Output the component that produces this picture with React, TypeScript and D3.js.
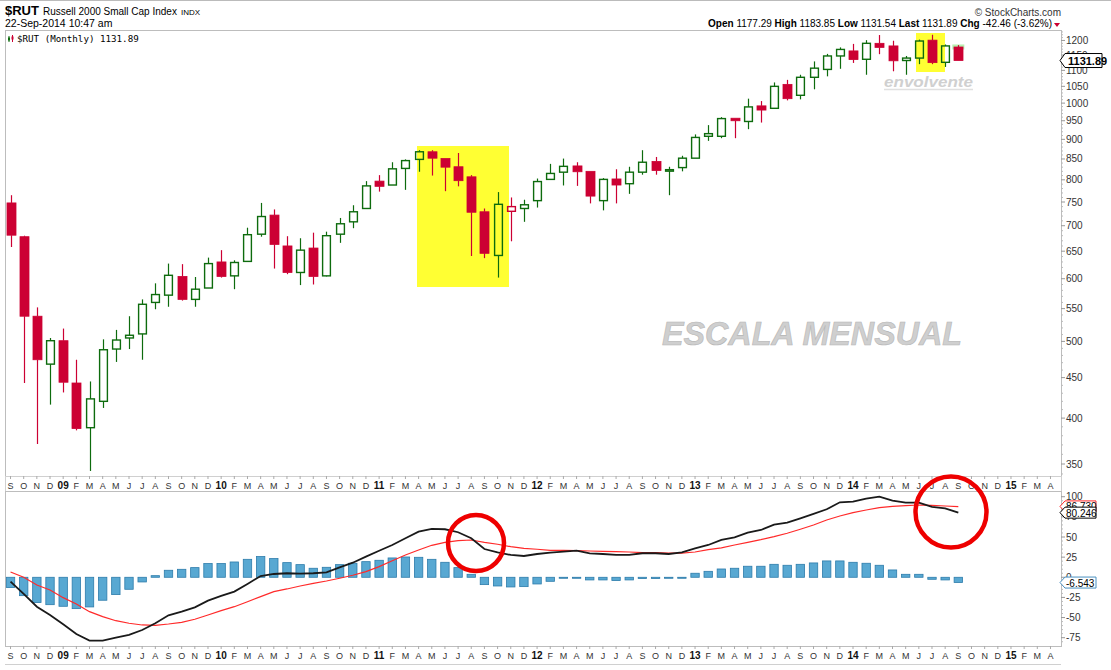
import React from 'react';
import * as d3 from 'd3';

// ---------- DATA ----------
const monthLabels = [
  'S','O','N','D',
  '09','F','M','A','M','J','J','A','S','O','N','D',
  '10','F','M','A','M','J','J','A','S','O','N','D',
  '11','F','M','A','M','J','J','A','S','O','N','D',
  '12','F','M','A','M','J','J','A','S','O','N','D',
  '13','F','M','A','M','J','J','A','S','O','N','D',
  '14','F','M','A','M','J','J','A','S','O','N','D',
  '15','F','M','A',
];

const opens = [748,678,538,468,501,443,389,420,489,505,511,560,572,604,565,584,630,605,631,683,722,660,611,656,605,683,708,736,797,788,827,849,868,851,831,807,729,642,730,736,753,801,818,833,820,753,802,791,818,844,821,829,852,908,908,957,948,992,985,1056,1023,1078,1103,1147,1164,1136,1190,1181,1132,1140,1201,1126,1177.29];
const highs = [765,680,552,505,519,474,445,503,517,538,565,592,627,626,603,638,652,633,696,748,734,679,675,686,688,716,743,797,811,842,849,872,872,851,865,811,736,772,760,755,803,838,851,842,820,804,825,831,872,855,831,858,913,938,960,957,1013,1006,1062,1070,1086,1129,1154,1176,1188,1201,1219,1199,1147,1203,1220,1186,1183.85];
const lows = [658,443,371,416,431,386,343,412,471,489,474,549,553,563,553,584,602,582,630,678,618,608,589,590,604,666,695,736,773,788,777,819,810,774,785,641,637,602,669,708,738,800,787,786,747,732,747,768,812,812,765,820,852,896,903,903,927,945,985,1008,1011,1041,1081,1105,1124,1086,1153,1097,1086,1120,1120,1111,1131.54];
const closes = [681,538,474,501,444,388,423,488,502,509,557,573,606,565,582,627,604,629,682,719,663,611,652,604,680,704,729,786,785,826,846,868,852,830,798,728,646,745,740,744,796,815,832,819,763,801,788,818,842,822,824,852,905,915,956,950,989,980,1050,1013,1078,1107,1147,1169,1135,1190,1176,1131,1140,1198,1125,1181,1131.89];

const macdLine = [-5.4,-20.7,-36.5,-46.8,-58.4,-70.4,-78.6,-78.6,-74.9,-71.6,-65.4,-57.1,-47.2,-42.7,-37.3,-29,-23.2,-17.8,-8.3,1.6,4.1,5,4.6,5,6.2,12.4,18.1,25.6,33,40.1,48.4,56.6,60,59.6,55.9,48.4,35.1,31,27.7,26.4,28.9,30.5,31.8,33,29.8,28.9,27.7,27.7,29.8,29.8,28.9,31,36,40.1,46.3,49.6,55.4,58.7,65.3,67.8,73.2,78.6,84.4,93.1,93.8,97.6,100,95.1,92.6,92.6,87.3,85.6,80.2];
const signalLine = [6.6,0,-9.5,-15.8,-25.3,-33.1,-42.7,-48.9,-53.9,-57.1,-59.2,-59.6,-58,-55.9,-52.1,-46.8,-41.4,-36.5,-30.3,-24,-17.8,-14.5,-10.8,-7.5,-4.6,-1.2,2.5,7,13.2,20.6,27.7,33.9,39.7,43.4,45.4,46.3,43.4,41,38,36,34.8,33.5,33.5,33,32.6,32.2,31.8,31.4,30.6,30.6,30.1,30.1,31.4,34.3,36.4,40.1,43.4,46.7,50.4,54.6,59.6,64.9,71.1,76.1,80.2,83.5,86.4,88.1,88.9,89.7,89.3,88.5,87.6];
const histogram = [-12.8,-22.8,-31.4,-34,-36,-38.9,-36.8,-28.5,-21.5,-14.9,-5.8,2,8.7,9.9,12,17,17,19,22.3,25.7,23.2,18.2,15.7,11.2,12.4,15.7,17.4,19.4,21.1,24,25.2,24.8,22.3,18.6,12,3.7,-9.1,-10.8,-12,-11.6,-8.3,-5,-1.2,-0.4,-3.3,-3.3,-4.1,-3.3,-1.6,-1.6,-1.2,-0.8,5,7.4,10.3,11.2,13.7,13.7,16.1,14.9,16.1,17.8,20.3,20.3,18.6,17.4,14.9,9.1,3.7,3.7,-2.5,-3.3,-6.5];

const priceTicks = [1200,1150,1100,1050,1000,950,900,850,800,750,700,650,600,550,500,450,400,350];
const macdTicks = [100,75,50,25,0,-25,-50,-75];

const lastPrice = 1131.89;
const lastMacd = 80.246;
const lastSignal = 86.73;
const lastHist = -6.543;

// ---------- LAYOUT ----------
const W = 1111, H = 670;
const left = 5, right = 1061;
const mainTop = 30, mainBottom = 476;
const macdTop = 491, macdBottom = 646;

const RED = '#cc0033';
const GREEN = '#0d6b0d';
const FONT = '"Liberation Sans", Arial, sans-serif';

export default function App() {
  const x = d3.scaleLinear().domain([-0.42, 79.8]).range([left, right]);
  const y = d3.scaleLog().domain([338, 1237]).range([mainBottom, mainTop]);
  const ym = d3.scaleLinear().domain([-85.3, 107.1]).range([macdBottom, macdTop]);
  const bw = 9;

  const macdPath = d3.line<number>().x((_, i) => x(i)).y(d => ym(d)).curve(d3.curveLinear)(macdLine) || '';
  const sigPath = d3.line<number>().x((_, i) => x(i)).y(d => ym(d)).curve(d3.curveLinear)(signalLine) || '';

  const minorTicks: number[] = [];
  for (let v = 340; v <= 1230; v += 10) if (v % 50 !== 0) minorTicks.push(v);

  const monthAxis = (yTop: number) => (
    <g>
      {monthLabels.map((m, i) => {
        const bold = /\d/.test(m);
        return (
          <g key={i}>
            <line x1={x(i)} x2={x(i)} y1={yTop} y2={yTop + 3} stroke="#aaa" strokeWidth={1} />
            <text x={x(i)} y={yTop + 13} textAnchor="middle" fontSize={bold ? 10 : 9}
              fontWeight={bold ? 'bold' : 'normal'} fill={bold ? '#111' : '#333'} fontFamily={FONT}>{m}</text>
          </g>
        );
      })}
    </g>
  );

  const arrowBox = (yc: number, x0: number, w: number, h: number) => {
    const hh = h / 2;
    return `M${x0},${yc} L${x0 + 5},${yc - hh} L${x0 + w},${yc - hh} L${x0 + w},${yc + hh} L${x0 + 5},${yc + hh} Z`;
  };

  return (
    <svg width={W} height={H} style={{ position: 'absolute', left: 0, top: 0, background: '#fff' }}
      xmlns="http://www.w3.org/2000/svg">
      <rect x={0} y={0} width={W} height={H} fill="#fff" />
      <line x1={0} x2={W} y1={0.5} y2={0.5} stroke="#bbb" />
      {/* Header */}
      <text x={5} y={15} fontFamily={FONT} fill="#000">
        <tspan fontSize={13} fontWeight="bold">$RUT</tspan>
        <tspan fontSize={10} dx={4}>Russell 2000 Small Cap Index</tspan>
        <tspan fontSize={8} dx={4}>INDX</tspan>
      </text>
      <text x={5} y={27} fontFamily={FONT} fontSize={10.5} fill="#000">22-Sep-2014 10:47 am</text>
      <text x={1061} y={16} fontFamily={FONT} fontSize={10} fill="#333" textAnchor="end">© StockCharts.com</text>
      <text x={1052} y={27} fontFamily={FONT} fontSize={10} fill="#000" textAnchor="end">
        <tspan fontWeight="bold">Open</tspan><tspan> 1177.29 </tspan>
        <tspan fontWeight="bold">High</tspan><tspan> 1183.85 </tspan>
        <tspan fontWeight="bold">Low</tspan><tspan> 1131.54 </tspan>
        <tspan fontWeight="bold">Last</tspan><tspan> 1131.89 </tspan>
        <tspan fontWeight="bold">Chg</tspan><tspan> -42.46 (-3.62%)</tspan>
      </text>
      <path d="M1054,23 L1060,23 L1057,27 Z" fill={RED} />

      {/* Main panel frame */}
      <rect x={left + 0.5} y={mainTop + 0.5} width={right - left} height={mainBottom - mainTop} fill="none" stroke="#bdbdbd" />

      {/* yellow highlights */}
      <rect x={417} y={146} width={92} height={141} fill="#ffff33" />
      <rect x={916} y={33} width={29} height={39} fill="#ffff33" />
      <rect x={x(72) - 6} y={y(1186)} width={12} height={5} fill="#b8f0b0" />

      {/* legend */}
      <g fontFamily={FONT}>
        <line x1={9} x2={9} y1={36} y2={42} stroke={GREEN} />
        <rect x={8} y={37.5} width={2} height={3} fill={GREEN} />
        <line x1={12.5} x2={12.5} y1={35} y2={42} stroke={RED} />
        <rect x={11.5} y={36.5} width={2} height={3} fill={RED} />
        <text x={17} y={42} fontSize={9.2} fontFamily='"DejaVu Sans Mono", monospace' fill="#000">$RUT (Monthly) 1131.89</text>
      </g>

      {/* candles */}
      {closes.map((c, i) => {
        const o = opens[i], h = highs[i], l = lows[i];
        const prev = i > 0 ? closes[i - 1] : Infinity;
        const color = c < prev ? RED : GREEN;
        const filled = c < o;
        const cx = Math.round(x(i)) + 0.5;
        const top = y(Math.max(o, c));
        const bot = y(Math.min(o, c));
        const bh = Math.max(bot - top, 1.5);
        return (
          <g key={i}>
            <line x1={cx} x2={cx} y1={y(h)} y2={top} stroke={color} strokeWidth={1.2} />
            <line x1={cx} x2={cx} y1={top + bh} y2={y(l)} stroke={color} strokeWidth={1.2} />
            {filled ? (
              <rect x={cx - bw / 2} y={top} width={bw} height={bh} fill={color} stroke={color} strokeWidth={0.8} />
            ) : (
              <rect x={cx - bw / 2 + 0.6} y={top} width={bw - 1.2} height={bh} fill="none" stroke={color} strokeWidth={1.4} />
            )}
          </g>
        );
      })}

      {/* annotations */}
      <text x={662} y={345} fontFamily={FONT} fontSize={33} fontWeight="bold" fontStyle="italic"
        fill="#cfcfcf" stroke="#b5b5b5" strokeWidth={0.6} textLength={300} lengthAdjust="spacingAndGlyphs">ESCALA MENSUAL</text>
      <text x={884} y={87} fontFamily={FONT} fontSize={15} fontWeight="bold" fontStyle="italic"
        fill="#d0d0d0" textLength={89} lengthAdjust="spacingAndGlyphs">envolvente</text>
      <line x1={884} x2={973} y1={89.5} y2={89.5} stroke="#e0e0e0" strokeWidth={1.5} />

      {/* right price axis */}
      <g fontFamily={FONT} fontSize={10} fill="#333">
        {minorTicks.map(v => (
          <line key={'m' + v} x1={right} x2={right + 2} y1={y(v)} y2={y(v)} stroke="#bbb" />
        ))}
        {priceTicks.map(v => (
          <g key={v}>
            <line x1={right} x2={right + 4} y1={y(v)} y2={y(v)} stroke="#999" />
            <text x={1066} y={y(v) + 3.5}>{v}</text>
          </g>
        ))}
      </g>
      <path d={arrowBox(y(lastPrice), 1060, 42, 14)} fill="#fff" stroke="#000" strokeWidth={1} />
      <text x={1068} y={y(lastPrice) + 4} fontFamily={FONT} fontSize={11} fontWeight="bold">{lastPrice.toFixed(2)}</text>

      {/* month axis 1 */}
      <rect x={left + 0.5} y={mainBottom + 0.5} width={right - left} height={macdTop - mainBottom} fill="none" stroke="#d0d0d0" />
      {monthAxis(mainBottom)}

      {/* MACD panel */}
      <rect x={left + 0.5} y={macdTop + 0.5} width={right - left} height={macdBottom - macdTop} fill="none" stroke="#bdbdbd" />
      {histogram.map((v, i) => {
        const y0 = ym(0), y1 = ym(v);
        return (
          <rect key={i} x={x(i) - 4.2} y={Math.min(y0, y1)} width={8.4} height={Math.max(Math.abs(y1 - y0), 1)}
            fill="#58a8d2" stroke="#2d7cab" strokeWidth={0.8} />
        );
      })}
      <path d={sigPath} fill="none" stroke="#ff2a2a" strokeWidth={1.2} />
      <path d={macdPath} fill="none" stroke="#1a1a1a" strokeWidth={1.8} />

      {/* red circles */}
      <circle cx={476} cy={543} r={28} fill="none" stroke="#ee0000" strokeWidth={4.5} />
      <circle cx={951} cy={512} r={35.5} fill="none" stroke="#ee0000" strokeWidth={4.5} />

      {/* MACD axis */}
      <g fontFamily={FONT} fontSize={10} fill="#333">
        {macdTicks.map(v => (
          <g key={v}>
            <line x1={right} x2={right + 4} y1={ym(v)} y2={ym(v)} stroke="#999" />
            <text x={1066} y={ym(v) + 3.5}>{v}</text>
          </g>
        ))}
        {d3.range(-80, 105, 5).filter(v => v % 25 !== 0).map(v => (
          <line key={'mm' + v} x1={right} x2={right + 2} y1={ym(v)} y2={ym(v)} stroke="#bbb" />
        ))}
      </g>
      <path d={arrowBox(ym(lastSignal) - 1, 1060, 36, 11)} fill="#fff" stroke="#ff2a2a" />
      <text x={1066} y={ym(lastSignal) + 2.5} fontFamily={FONT} fontSize={10} fill="#000">{lastSignal.toFixed(3)}</text>
      <path d={arrowBox(ym(lastMacd), 1060, 36, 11)} fill="#fff" stroke="#000" />
      <text x={1066} y={ym(lastMacd) + 4} fontFamily={FONT} fontSize={10} fill="#000">{lastMacd.toFixed(3)}</text>
      <path d={arrowBox(ym(lastHist), 1060, 36, 11)} fill="#fff" stroke="#4a90c0" />
      <text x={1066} y={ym(lastHist) + 4} fontFamily={FONT} fontSize={10} fill="#000">{lastHist.toFixed(3)}</text>

      {/* month axis 2 */}
      {monthAxis(macdBottom)}
      <line x1={left} x2={right} y1={664.5} y2={664.5} stroke="#d0d0d0" />
    </svg>
  );
}
